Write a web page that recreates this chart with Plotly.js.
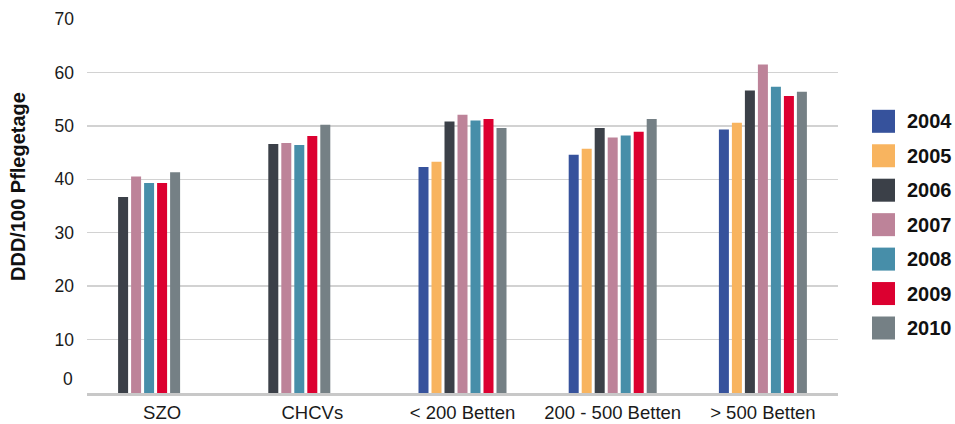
<!DOCTYPE html>
<html>
<head>
<meta charset="utf-8">
<script src="https://cdn.plot.ly/plotly-3.0.1.min.js"></script>
<style>html,body{margin:0;padding:0;background:#fff;}#chart{width:955px;height:424px;}</style>
</head>
<body>
<div id="chart"></div>
<script>
// ---- data ----
const categories = ['SZO', 'CHCVs', '< 200 Betten', '200 - 500 Betten', '> 500 Betten'];
const years = ['2004', '2005', '2006', '2007', '2008', '2009', '2010'];
const v2004 = [null, null, 42.3, 44.6, 49.3];
const v2005 = [null, null, 43.3, 45.7, 50.6];
const v2006 = [36.7, 46.6, 50.8, 49.6, 56.6];
const v2007 = [40.5, 46.8, 52.1, 47.8, 61.5];
const v2008 = [39.3, 46.4, 51.0, 48.2, 57.3];
const v2009 = [39.3, 48.1, 51.3, 48.9, 55.6];
const v2010 = [41.3, 50.2, 49.6, 51.3, 56.4];
const yTicks = [0, 10, 20, 30, 40, 50, 60, 70];
const yTickLabels = ['0', '10', '20', '30', '40', '50', '60', '70'];

const seriesValues = [v2004, v2005, v2006, v2007, v2008, v2009, v2010];
const colors = ['#36529c', '#f8b45f', '#3b4048', '#bd8399', '#478ea9', '#dc0030', '#758085'];

// ---- layout constants (pixels) ----
const W = 955, H = 424;
const mL = 87, mR = 117, mT = 19, mB = 31;
const plotW = W - mL - mR, plotH = H - mT - mB;
const catPx = plotW / categories.length;
const pitch = 13 / catPx;     // slot pitch in category units
const barW = 10 / catPx;      // bar width in category units
const nSlots = years.length;

// present values are packed into the first slots of each group
const slotCounter = categories.map(() => 0);
const traces = seriesValues.map((vals, i) => {
  const offsets = vals.map((v, j) => {
    if (v === null) return 0;
    const slot = slotCounter[j]++;
    return (slot - (nSlots - 1) / 2) * pitch - barW / 2;
  });
  return {
    type: 'bar',
    name: years[i],
    x: categories,
    y: vals,
    width: barW,
    offset: offsets,
    marker: {color: colors[i], line: {width: 0}},
    showlegend: false,
    hoverinfo: 'x+y+name'
  };
});

const font = "'Liberation Sans', Arial, Helvetica, sans-serif";
const pxToPaperX = px => (px - mL) / plotW;
const pxToPaperY = py => (H - mB - py) / plotH;

// custom legend: large square swatches with bold labels
const shapes = [];
const annotations = [];
const legTop = 121.3, legStep = 34.45;
years.forEach((yr, i) => {
  const cy = pxToPaperY(legTop + i * legStep);
  shapes.push({
    type: 'rect', xref: 'paper', yref: 'paper',
    xsizemode: 'pixel', ysizemode: 'pixel',
    xanchor: pxToPaperX(883.5), yanchor: cy,
    x0: -11.5, x1: 11.5, y0: -11.5, y1: 11.5,
    fillcolor: colors[i], line: {width: 0}
  });
  annotations.push({
    xref: 'paper', yref: 'paper',
    x: pxToPaperX(905), y: cy,
    xanchor: 'left', yanchor: 'middle',
    text: yr, showarrow: false,
    font: {family: font, size: 20, color: '#111', weight: 'bold'}
  });
});

// y-axis title
annotations.push({
  xref: 'paper', yref: 'paper',
  x: pxToPaperX(18), y: pxToPaperY(187),
  xanchor: 'center', yanchor: 'middle',
  text: 'DDD/100 Pflegetage', textangle: -90, showarrow: false,
  font: {family: font, size: 20, color: '#111', weight: 'bold'}
});

// "0" label sits slightly above the baseline in the reference
annotations.push({
  xref: 'paper', yref: 'paper',
  x: pxToPaperX(75), y: pxToPaperY(379),
  xanchor: 'right', yanchor: 'middle',
  text: yTickLabels[0], showarrow: false,
  font: {family: font, size: 17.5, color: '#1a1a1a'}
});

const layout = {
  width: W, height: H,
  margin: {l: mL, r: mR, t: mT, b: mB, pad: 0},
  paper_bgcolor: '#fff', plot_bgcolor: '#fff',
  barmode: 'overlay',
  showlegend: false,
  font: {family: font, size: 17, color: '#1a1a1a'},
  xaxis: {
    type: 'category',
    showgrid: false,
    showline: true, linecolor: '#c8c8c8', linewidth: 2.5,
    ticks: '', ticklabelstandoff: 1,
    tickfont: {family: font, size: 18.5, color: '#1a1a1a'},
    fixedrange: true
  },
  yaxis: {
    range: [0, 70],
    tickvals: yTicks.slice(1),
    ticktext: yTickLabels.slice(1),
    showgrid: true, gridcolor: '#d2d2d2', gridwidth: 1.5,
    zeroline: false, showline: false,
    ticks: '', ticklabelstandoff: 12,
    tickfont: {family: font, size: 17.5, color: '#1a1a1a'},
    fixedrange: true
  },
  shapes: shapes,
  annotations: annotations
};

Plotly.newPlot('chart', traces, layout, {displayModeBar: false, staticPlot: true});
</script>
</body>
</html>
